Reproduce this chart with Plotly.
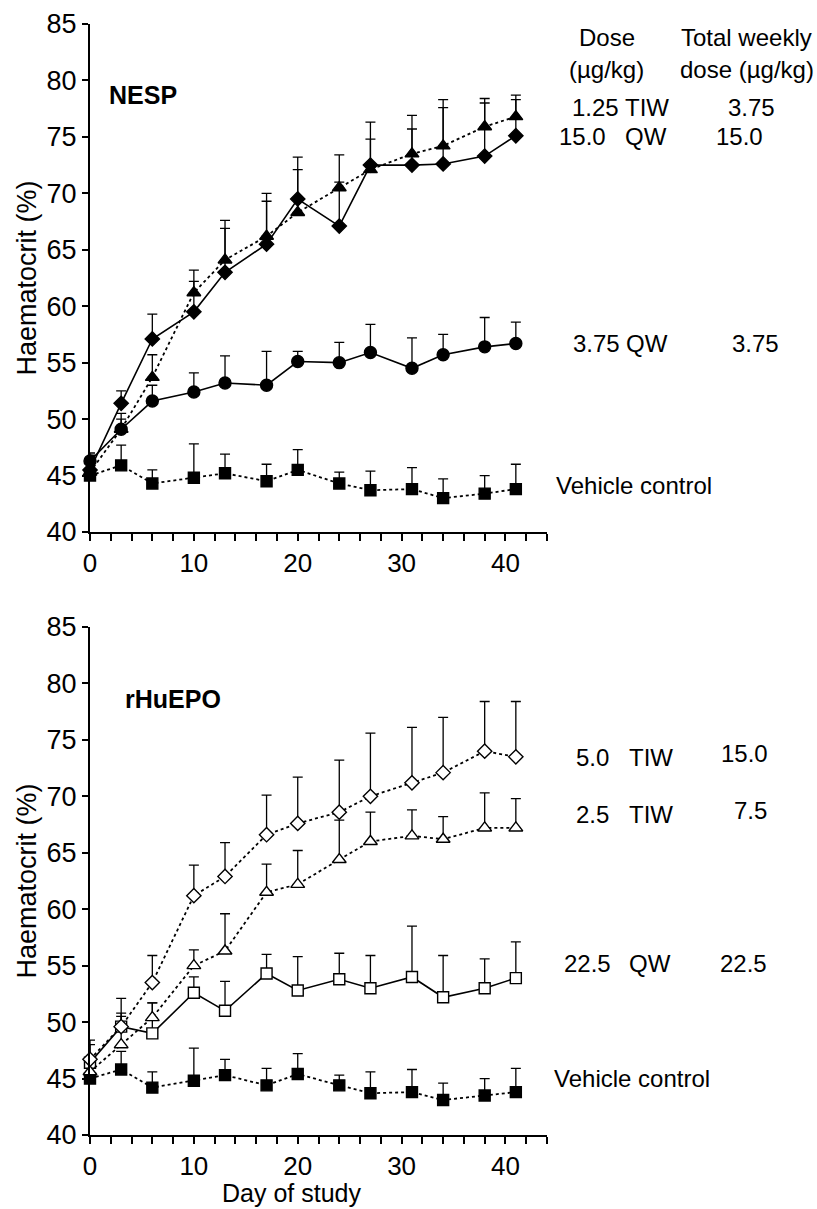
import plotly.graph_objects as go

# ---------------- data ----------------
days = [0, 3, 6, 10, 13, 17, 20, 24, 27, 31, 34, 38, 41]

# NESP panel
nesp_15qw = [45.5, 51.4, 57.1, 59.5, 63.0, 65.5, 69.5, 67.1, 72.5, 72.5, 72.6, 73.3, 75.1]
nesp_15qw_se = [1.3, 1.1, 2.2, 2.7, 3.9, 3.8, 3.7, 3.9, 2.3, 3.2, 5.0, 4.7, 3.2]
nesp_125tiw = [45.3, 49.1, 53.7, 61.2, 64.1, 66.2, 68.3, 70.5, 72.1, 73.5, 74.2, 75.9, 76.8]
nesp_125tiw_se = [1.2, 1.4, 2.0, 2.0, 3.5, 3.8, 3.8, 2.9, 4.2, 3.4, 4.1, 2.5, 1.9]
nesp_375qw = [46.3, 49.1, 51.6, 52.4, 53.2, 53.0, 55.1, 55.0, 55.9, 54.5, 55.7, 56.4, 56.7]
nesp_375qw_se = [0.7, 0.9, 1.4, 1.7, 2.4, 3.0, 0.9, 1.8, 2.5, 2.7, 1.8, 2.6, 1.9]
nesp_vehicle = [45.0, 45.9, 44.3, 44.8, 45.2, 44.5, 45.5, 44.3, 43.7, 43.8, 43.0, 43.4, 43.8]
nesp_vehicle_se = [1.0, 1.8, 1.2, 3.0, 1.7, 1.5, 1.8, 1.0, 1.7, 1.9, 1.7, 1.6, 2.2]

# rHuEPO panel
epo_50tiw = [46.7, 49.6, 53.5, 61.2, 62.9, 66.6, 67.6, 68.6, 70.0, 71.2, 72.1, 74.0, 73.5]
epo_50tiw_se = [1.7, 2.5, 2.4, 2.7, 3.0, 3.5, 4.1, 4.6, 5.6, 4.9, 4.9, 4.4, 4.9]
epo_25tiw = [45.6, 48.0, 50.4, 55.0, 56.3, 61.5, 62.2, 64.4, 66.0, 66.5, 66.2, 67.2, 67.2]
epo_25tiw_se = [0.9, 2.8, 1.3, 1.4, 3.3, 2.5, 3.0, 3.5, 2.6, 2.3, 2.0, 3.1, 2.6]
epo_225qw = [46.4, 49.6, 49.0, 52.6, 51.0, 54.3, 52.8, 53.8, 53.0, 54.0, 52.2, 53.0, 53.9]
epo_225qw_se = [1.6, 0.9, 2.7, 1.4, 2.6, 1.7, 3.0, 2.3, 2.9, 4.5, 3.7, 2.6, 3.2]
epo_vehicle = [45.0, 45.8, 44.2, 44.8, 45.3, 44.4, 45.4, 44.4, 43.7, 43.8, 43.1, 43.5, 43.8]
epo_vehicle_se = [1.0, 1.6, 1.4, 2.9, 1.4, 1.5, 1.8, 0.9, 1.9, 2.0, 1.5, 1.5, 2.1]

x_ticks = [0, 10, 20, 30, 40]
y_ticks = [40, 45, 50, 55, 60, 65, 70, 75, 80, 85]

# ---------------- layout geometry ----------------
W, H = 817, 1209
L, R, T, B = 90, 270, 24, 74
PW = W - L - R
PH = H - T - B
FONT = "Liberation Sans, Arial, sans-serif"


def px2x(px):
    return (px - L) / PW


def py2y(py):
    return (H - B - py) / PH


top_dom = [py2y(532), 1.0]
bot_dom = [0.0, py2y(627)]

fig = go.Figure()


def add_series(y, se, symbol, size, dash, fill, xa, ya, name):
    fig.add_trace(go.Scatter(
        x=days, y=y, name=name, mode="lines+markers",
        xaxis=xa, yaxis=ya, cliponaxis=False, showlegend=False,
        line=dict(color="black", width=1.6 if dash == "solid" else 1.8, dash=dash),
        marker=dict(symbol=symbol, size=size, color=fill,
                    line=dict(color="black", width=1.4)),
        error_y=dict(type="data", symmetric=False, array=se,
                     arrayminus=[0] * len(se), color="black",
                     thickness=1.3, width=5),
    ))


# NESP
add_series(nesp_vehicle, nesp_vehicle_se, "square", 11, "dot", "black", "x", "y", "Vehicle control")
add_series(nesp_375qw, nesp_375qw_se, "circle", 12, "solid", "black", "x", "y", "3.75 QW")
add_series(nesp_125tiw, nesp_125tiw_se, "triangle-up", 12, "dot", "black", "x", "y", "1.25 TIW")
add_series(nesp_15qw, nesp_15qw_se, "diamond", 11, "solid", "black", "x", "y", "15.0 QW")

# rHuEPO
add_series(epo_vehicle, epo_vehicle_se, "square", 11, "dot", "black", "x2", "y2", "Vehicle control")
add_series(epo_225qw, epo_225qw_se, "square", 11, "solid", "white", "x2", "y2", "22.5 QW")
add_series(epo_25tiw, epo_25tiw_se, "triangle-up", 12, "dot", "white", "x2", "y2", "2.5 TIW")
add_series(epo_50tiw, epo_50tiw_se, "diamond", 11, "dot", "white", "x2", "y2", "5.0 TIW")

xaxis_common = dict(
    range=[0, 44], tickvals=x_ticks, ticks="outside", ticklen=7, tickwidth=1.5,
    tickcolor="black", showline=True, linecolor="black", linewidth=2,
    showgrid=False, zeroline=False,
    tickfont=dict(family=FONT, size=26, color="black"),
    minor=dict(dtick=2, tick0=0, ticks="outside", ticklen=7, tickwidth=1.5,
               tickcolor="black", showgrid=False),
)
yaxis_common = dict(
    range=[40, 85], tickvals=y_ticks, ticks="outside", ticklen=6, tickwidth=1.5,
    tickcolor="black", showline=True, linecolor="black", linewidth=2,
    showgrid=False, zeroline=False,
    tickfont=dict(family=FONT, size=27, color="black"),
    title=dict(text="Haematocrit (%)", font=dict(family=FONT, size=27, color="black"),
               standoff=2),
)

fig.update_layout(
    width=W, height=H,
    margin=dict(l=L, r=R, t=T, b=B, autoexpand=False),
    paper_bgcolor="white", plot_bgcolor="white",
    xaxis=dict(domain=[0, 1], anchor="y", **xaxis_common),
    yaxis=dict(domain=top_dom, anchor="x", **yaxis_common),
    xaxis2=dict(domain=[0, 1], anchor="y2", **xaxis_common),
    yaxis2=dict(domain=bot_dom, anchor="x2", **yaxis_common),
)

ann = []


def text(t, px, py, xanchor="left", size=24, bold=False, yanchor="middle"):
    ann.append(dict(
        text=f"<b>{t}</b>" if bold else t, x=px2x(px), y=py2y(py),
        xref="paper", yref="paper", xanchor=xanchor, yanchor=yanchor,
        showarrow=False, font=dict(family=FONT, size=size, color="black"),
    ))


# panel titles
text("NESP", 107, 95, size=25, bold=True)
text("rHuEPO", 123, 699, size=25, bold=True)

# headers
text("Dose", 607, 38, "center")
text("(µg/kg)", 606, 70, "center")
text("Total weekly", 814, 38, "right")
text("dose (µg/kg)", 816, 70, "right")

# NESP doses
text("1.25", 621, 107, "right"); text("TIW", 623, 107); text("3.75", 751, 107, "center")
text("15.0", 608, 137, "right"); text("QW", 623, 137); text("15.0", 739, 137, "center")
text("3.75", 622, 343, "right"); text("QW", 624, 343); text("3.75", 755, 343, "center")
text("Vehicle control", 554, 485)

# rHuEPO doses
text("5.0", 611, 757, "right"); text("TIW", 627, 757); text("15.0", 744, 753, "center")
text("2.5", 611, 814, "right"); text("TIW", 627, 814); text("7.5", 750, 810, "center")
text("22.5", 613, 963, "right"); text("QW", 627, 963); text("22.5", 743, 963, "center")
text("Vehicle control", 552, 1078)

# x-axis title
text("Day of study", 291, 1209, "center", size=25, yanchor="bottom")

fig.update_layout(annotations=ann)

fig.write_html(
    "out.html",
    config={"displayModeBar": False},
    post_script="document.body.style.margin='0px';document.body.style.overflow='hidden';",
)
